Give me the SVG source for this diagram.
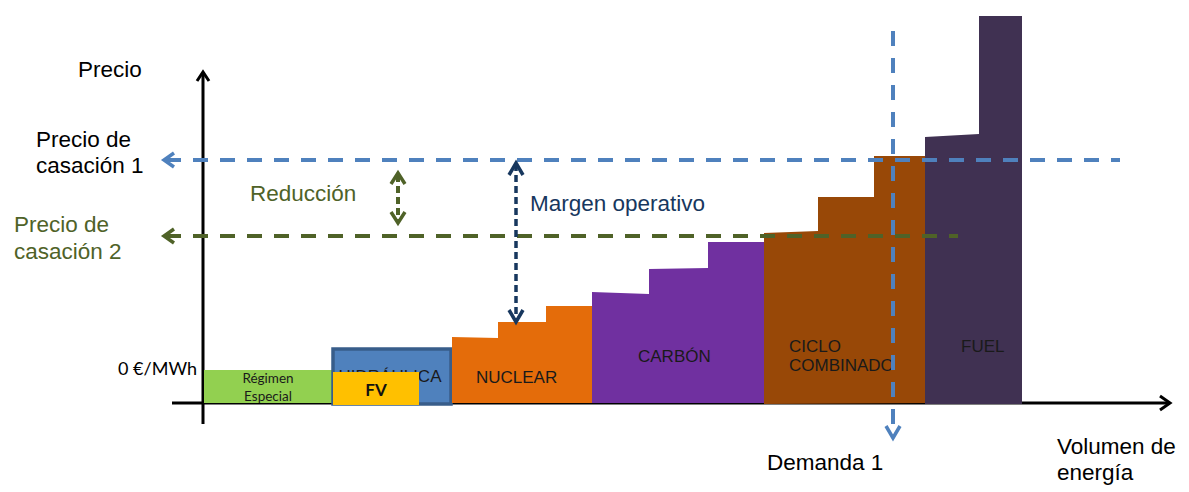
<svg xmlns="http://www.w3.org/2000/svg" width="1189" height="492" viewBox="0 0 1189 492">
<style>
.lbl{font-family:"Liberation Sans",Arial,sans-serif;font-size:22.5px;fill:#000}
.grn{fill:#4f6228}
.nav{fill:#17375e}
.blk{font-family:"Liberation Sans",Arial,sans-serif;font-size:17px;fill:#1a1a1a}
.cal{font-family:Lato,"Open Sans",sans-serif;fill:#1a1a1a}
.axis{stroke:#000;stroke-width:3;fill:none}
.chev{fill:none;stroke-linecap:butt;stroke-linejoin:miter}
</style>
<rect width="1189" height="492" fill="#fff"/>
<g id="axes">
<line class="axis" x1="203" y1="72" x2="203" y2="424"/>
<polyline class="axis chev" points="197,81 203,72 209,81"/>
<line class="axis" x1="172" y1="403" x2="1170" y2="403"/>
<polyline class="axis chev" points="1160,396 1170,403 1160,410"/>
</g>
<g id="regimen">
<rect x="204" y="370" width="129" height="33" fill="#92d050"/>
<text class="cal" x="268" y="383" font-size="13.5" text-anchor="middle">Régimen</text>
<text class="cal" x="268" y="401" font-size="13.5" text-anchor="middle">Especial</text>
</g>
<g id="hidraulica">
<rect x="333" y="349" width="118" height="55" fill="#4f81bd" stroke="#385d8a" stroke-width="3.5"/>
<text class="blk" x="390" y="382" font-size="15" text-anchor="middle">HIDRÁULICA</text>
</g>
<g id="fv">
<rect x="333" y="372" width="86" height="33" fill="#ffc000"/>
<text class="cal" x="376" y="396" font-size="17" font-weight="bold" text-anchor="middle" style="fill:#111">FV</text>
</g>
<g id="nuclear">
<polygon points="452,337 498,338 498,322 546,322 546,306 592,306 592,403 452,403" fill="#e46c0a"/>
<text class="blk" x="476" y="383">NUCLEAR</text>
</g>
<g id="carbon">
<polygon points="592,292 649,294 649,269 708,268 708,242 764,242 764,403 592,403" fill="#7030a0"/>
<text class="blk" x="638" y="362">CARBÓN</text>
</g>
<g id="ciclo">
<polygon points="764,233 818,231 818,197 874,197 874,156 925,156 925,403 764,404" fill="#984807"/>
<text class="blk" x="789" y="352">CICLO</text>
<text class="blk" x="789" y="371">COMBINADO</text>
</g>
<g id="fuel">
<polygon points="925,137 979,134 979,16 1022,16 1022,404 925,404" fill="#403152"/>
<text class="blk" x="961" y="352">FUEL</text>
</g>
<g id="connectors">
<line x1="166" y1="160" x2="1120" y2="160" stroke="#4f81bd" stroke-width="4" stroke-dasharray="15,12"/>
<polyline class="chev" points="174,153 164,160 174,167" stroke="#4f81bd" stroke-width="3.5"/>
<line x1="166" y1="236" x2="958" y2="236" stroke="#4f6228" stroke-width="4" stroke-dasharray="15,12"/>
<polyline class="chev" points="174,229 164,236 174,243" stroke="#4f6228" stroke-width="3.5"/>
<line x1="893" y1="31" x2="893" y2="436" stroke="#4f81bd" stroke-width="4" stroke-dasharray="15,12"/>
<polyline class="chev" points="886,426 893,438 900,426" stroke="#4f81bd" stroke-width="3.5"/>
<line x1="398" y1="175" x2="398" y2="222" stroke="#4f6228" stroke-width="4" stroke-dasharray="7,4"/>
<polyline class="chev" points="391,184 398,173 405,184" stroke="#4f6228" stroke-width="3.5"/>
<polyline class="chev" points="391,212 398,223 405,212" stroke="#4f6228" stroke-width="3.5"/>
<line x1="516" y1="164" x2="516" y2="320" stroke="#17375e" stroke-width="3.5" stroke-dasharray="7,4"/>
<polyline class="chev" points="509,175 516,163 523,175" stroke="#17375e" stroke-width="3.5"/>
<polyline class="chev" points="509,310 516,322 523,310" stroke="#17375e" stroke-width="3.5"/>
</g>
<g id="labels">
<text class="lbl" x="78" y="77">Precio</text>
<text class="lbl" x="36" y="147">Precio de</text>
<text class="lbl" x="36" y="173">casación 1</text>
<text class="lbl grn" x="14" y="232">Precio de</text>
<text class="lbl grn" x="14" y="259">casación 2</text>
<text class="lbl grn" x="250" y="201">Reducción</text>
<text class="lbl nav" x="530" y="211">Margen operativo</text>
<text class="cal" x="197" y="375" font-size="18" text-anchor="end" style="fill:#000">0 €/MWh</text>
<text class="lbl" x="767" y="470">Demanda 1</text>
<text class="lbl" x="1057" y="454">Volumen de</text>
<text class="lbl" x="1057" y="480">energía</text>
</g>
</svg>
